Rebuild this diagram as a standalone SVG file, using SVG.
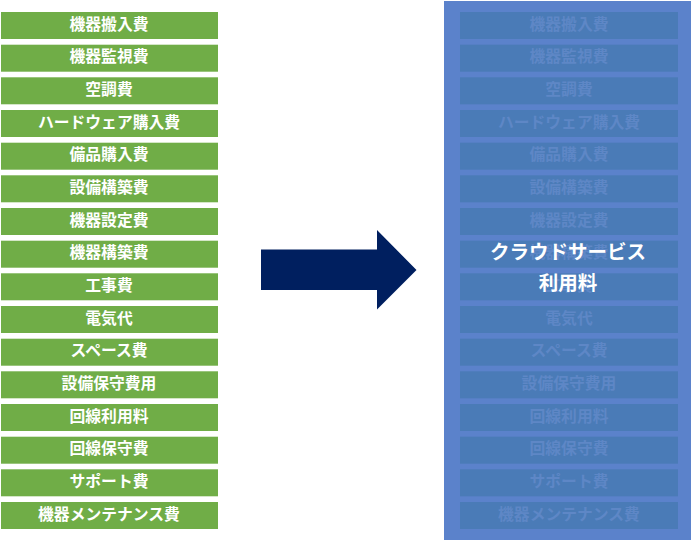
<svg xmlns="http://www.w3.org/2000/svg" width="694" height="541" viewBox="0 0 694 541">
<style>
.g{fill:#70AD47}
.b{fill:#4A7BB7}
.t{font-family:"Noto Sans CJK JP","Noto Sans CJK SC",sans-serif;font-size:15.8px;font-weight:bold;text-anchor:middle}
.tw{fill:#FFFFFF}
.tf{fill:#5E87C6}
.big{font-family:"Noto Sans CJK JP","Noto Sans CJK SC",sans-serif;font-size:19.5px;font-weight:bold;text-anchor:middle;fill:#FFFFFF}
</style>
<rect width="694" height="541" fill="#FFFFFF"/>
<g id="left">
<g id="l1"><rect class="g" x="1" y="12" width="217" height="27"/><text class="t tw" x="109" y="29.5">機器搬入費</text></g>
<g id="l2"><rect class="g" x="1" y="44.7" width="217" height="27"/><text class="t tw" x="109" y="62.2">機器監視費</text></g>
<g id="l3"><rect class="g" x="1" y="77.3" width="217" height="27"/><text class="t tw" x="109" y="94.8">空調費</text></g>
<g id="l4"><rect class="g" x="1" y="110" width="217" height="27"/><text class="t tw" x="109" y="127.5">ハードウェア購入費</text></g>
<g id="l5"><rect class="g" x="1" y="142.7" width="217" height="27"/><text class="t tw" x="109" y="160.2">備品購入費</text></g>
<g id="l6"><rect class="g" x="1" y="175.3" width="217" height="27"/><text class="t tw" x="109" y="192.8">設備構築費</text></g>
<g id="l7"><rect class="g" x="1" y="208" width="217" height="27"/><text class="t tw" x="109" y="225.5">機器設定費</text></g>
<g id="l8"><rect class="g" x="1" y="240.7" width="217" height="27"/><text class="t tw" x="109" y="258.2">機器構築費</text></g>
<g id="l9"><rect class="g" x="1" y="273.3" width="217" height="27"/><text class="t tw" x="109" y="290.8">工事費</text></g>
<g id="l10"><rect class="g" x="1" y="306" width="217" height="27"/><text class="t tw" x="109" y="323.5">電気代</text></g>
<g id="l11"><rect class="g" x="1" y="338.7" width="217" height="27"/><text class="t tw" x="109" y="356.2">スペース費</text></g>
<g id="l12"><rect class="g" x="1" y="371.3" width="217" height="27"/><text class="t tw" x="109" y="388.8">設備保守費用</text></g>
<g id="l13"><rect class="g" x="1" y="404" width="217" height="27"/><text class="t tw" x="109" y="421.5">回線利用料</text></g>
<g id="l14"><rect class="g" x="1" y="436.7" width="217" height="27"/><text class="t tw" x="109" y="454.2">回線保守費</text></g>
<g id="l15"><rect class="g" x="1" y="469.3" width="217" height="27"/><text class="t tw" x="109" y="486.8">サポート費</text></g>
<g id="l16"><rect class="g" x="1" y="502" width="217" height="27"/><text class="t tw" x="109" y="519.5">機器メンテナンス費</text></g>
</g>
<g id="connectors">
<polygon points="261,249.5 377,249.5 377,230 416.5,270 377,309.5 377,290 261,290" fill="#001F5F"/>
</g>
<g id="right">
<rect x="444" y="1" width="247" height="539" fill="#5B82CB"/>
<g id="r1"><rect class="b" x="460" y="12" width="218" height="27"/><text class="t tf" x="569" y="29.5">機器搬入費</text></g>
<g id="r2"><rect class="b" x="460" y="44.7" width="218" height="27"/><text class="t tf" x="569" y="62.2">機器監視費</text></g>
<g id="r3"><rect class="b" x="460" y="77.3" width="218" height="27"/><text class="t tf" x="569" y="94.8">空調費</text></g>
<g id="r4"><rect class="b" x="460" y="110" width="218" height="27"/><text class="t tf" x="569" y="127.5">ハードウェア購入費</text></g>
<g id="r5"><rect class="b" x="460" y="142.7" width="218" height="27"/><text class="t tf" x="569" y="160.2">備品購入費</text></g>
<g id="r6"><rect class="b" x="460" y="175.3" width="218" height="27"/><text class="t tf" x="569" y="192.8">設備構築費</text></g>
<g id="r7"><rect class="b" x="460" y="208" width="218" height="27"/><text class="t tf" x="569" y="225.5">機器設定費</text></g>
<g id="r8"><rect class="b" x="460" y="240.7" width="218" height="27"/><text class="t tf" x="569" y="258.2">機器構築費</text></g>
<g id="r9"><rect class="b" x="460" y="273.3" width="218" height="27"/><text class="t tf" x="569" y="290.8">工事費</text></g>
<g id="r10"><rect class="b" x="460" y="306" width="218" height="27"/><text class="t tf" x="569" y="323.5">電気代</text></g>
<g id="r11"><rect class="b" x="460" y="338.7" width="218" height="27"/><text class="t tf" x="569" y="356.2">スペース費</text></g>
<g id="r12"><rect class="b" x="460" y="371.3" width="218" height="27"/><text class="t tf" x="569" y="388.8">設備保守費用</text></g>
<g id="r13"><rect class="b" x="460" y="404" width="218" height="27"/><text class="t tf" x="569" y="421.5">回線利用料</text></g>
<g id="r14"><rect class="b" x="460" y="436.7" width="218" height="27"/><text class="t tf" x="569" y="454.2">回線保守費</text></g>
<g id="r15"><rect class="b" x="460" y="469.3" width="218" height="27"/><text class="t tf" x="569" y="486.8">サポート費</text></g>
<g id="r16"><rect class="b" x="460" y="502" width="218" height="27"/><text class="t tf" x="569" y="519.5">機器メンテナンス費</text></g>
<g id="cloud"><text class="big" x="568" y="258.5">クラウドサービス</text><text class="big" x="568" y="289.5">利用料</text></g>
</g>
</svg>
